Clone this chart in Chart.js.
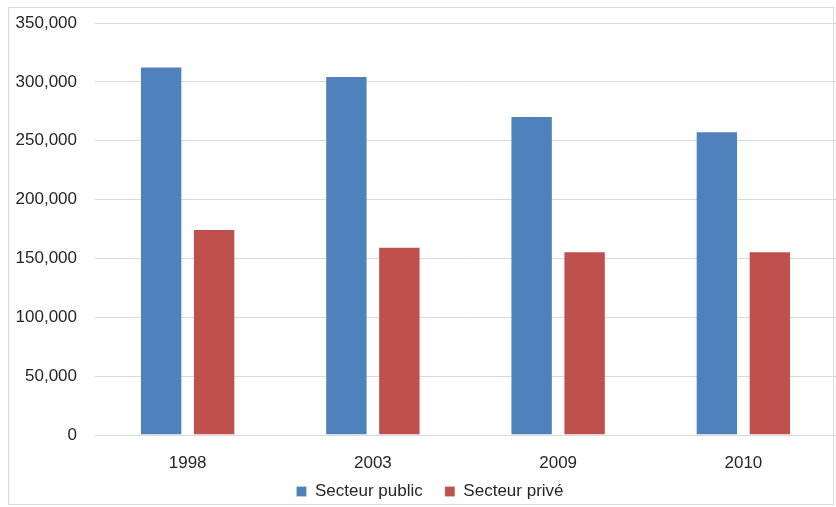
<!DOCTYPE html>
<html>
<head>
<meta charset="utf-8">
<script src="https://cdn.jsdelivr.net/npm/chart.js@4"></script>
<style>
  body { margin: 0; background: #fff; }
  #wrap { position: relative; width: 836px; height: 507px; }
  #frame { position: absolute; left: 8px; top: 7px; width: 826px; height: 498px; border: 1px solid #d9d9d9; box-sizing: border-box; }
  #chart { position: absolute; left: 0; top: 0; }
</style>
</head>
<body>
<div id="wrap">
  <div id="frame"></div>
  <canvas id="chart" width="836" height="507"></canvas>
</div>
<script>
// years and employment figures per sector
const years = ['1998', '2003', '2009', '2010'];
const publicSector = [313000, 305000, 271000, 258000];
const privateSector = [175000, 160000, 156000, 156000];
const yTicks = [0, 50000, 100000, 150000, 200000, 250000, 300000, 350000];

const textColor = '#262626';
const font = { family: 'Liberation Sans, Arial, sans-serif', size: 17 };

// nudge the legend a bit right of the canvas centre
const legendShift = {
    id: 'legendShift',
    afterLayout(chart) {
        chart.legend.left += 12;
        chart.legend.right += 12;
    }
};

const ctx = document.getElementById('chart').getContext('2d');
new Chart(ctx, {
    type: 'bar',
    data: {
        labels: years,
        datasets: [{
            label: 'Secteur public',
            data: publicSector,
            backgroundColor: '#4f81bd',
            borderColor: 'rgba(255,255,255,0.2)',
            borderWidth: 1
        }, {
            label: 'Secteur privé',
            data: privateSector,
            backgroundColor: '#c0504d',
            borderColor: 'rgba(255,255,255,0.2)',
            borderWidth: 1
        }]
    },
    plugins: [legendShift],
    options: {
        responsive: false,
        animation: false,
        layout: { padding: { top: 23, right: 0, bottom: 4, left: 0 } },
        datasets: {
            bar: { categoryPercentage: 0.572, barPercentage: 0.8 }
        },
        plugins: {
            tooltip: { enabled: false },
            legend: {
                position: 'bottom',
                maxHeight: 28,
                labels: {
                    color: textColor,
                    font: font,
                    boxWidth: 10,
                    boxHeight: 10,
                    padding: 8,
                    // extra room after the first entry
                    generateLabels(chart) {
                        const items = Chart.defaults.plugins.legend.labels.generateLabels(chart);
                        items[0].text += '   ';
                        return items;
                    }
                }
            }
        },
        scales: {
            x: {
                grid: { display: false },
                border: { display: false },
                ticks: { color: textColor, font: font, padding: 10 },
                afterFit: function (scale) { scale.height = 40; }
            },
            y: {
                min: 0,
                max: 350000,
                afterBuildTicks: function (scale) {
                    scale.ticks = yTicks.map(v => ({ value: v }));
                },
                grid: { color: '#d9d9d9', drawTicks: false },
                border: { display: false },
                ticks: {
                    color: textColor,
                    font: font,
                    padding: 18,
                    callback: v => v.toLocaleString('en-US')
                },
                afterFit: function (scale) {
                    scale.width = 95;
                    scale.paddingTop = 0;
                    scale.paddingBottom = 0;
                }
            }
        }
    }
});
</script>
</body>
</html>
